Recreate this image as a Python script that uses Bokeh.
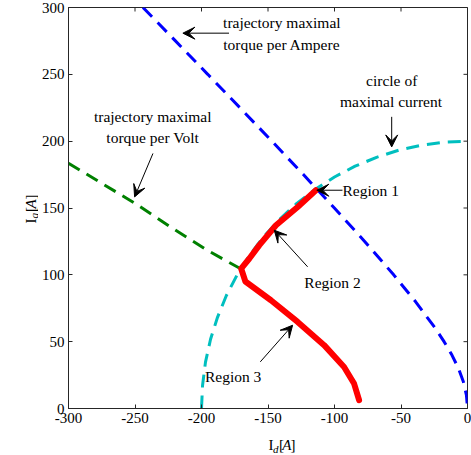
import math
from bokeh.plotting import figure
from bokeh.layouts import row, column
from bokeh.models import Range1d, FixedTicker, Label, Arrow, VeeHead
from bokeh.core.properties import value
from bokeh.embed import file_html
from bokeh.resources import INLINE

# ---------------- data ----------------
x_ticks = [-300, -250, -200, -150, -100, -50, 0]
x_tick_labels = ["-300", "-250", "-200", "-150", "-100", "-50", "0"]
y_ticks = [0, 50, 100, 150, 200, 250, 300]
y_tick_labels = ["0", "50", "100", "150", "200", "250", "300"]

# trajectory maximal torque per Ampere (blue dashed)
mtpa_id = [-244.0, -219.6, -195.3, -171.1, -147.1, -123.4, -100.1, -77.3, -55.5,
           -39.1, -24.2, -17.6, -11.7, -6.8, -3.1, -0.8, 0.0]
mtpa_iq = [300, 275, 250, 225, 200, 175, 150, 125, 100, 80, 60, 50, 40, 30, 20, 10, 0]

# circle of maximal current (cyan dashed)
imax_id = [-200.0, -199.2, -197.0, -193.2, -187.9, -181.3, -173.2, -163.8, -153.2, -141.4,
           -128.6, -114.7, -100.0, -84.5, -68.4, -51.8, -34.7, -17.4, 0.0]
imax_iq = [0.0, 17.4, 34.7, 51.8, 68.4, 84.5, 100.0, 114.7, 128.6, 141.4,
           153.2, 163.8, 173.2, 181.3, 187.9, 193.2, 197.0, 199.2, 200.0]

# trajectory maximal torque per Volt (green dashed)
mtpv_id = [-300, -250, -222, -195, -170.5]
mtpv_iq = [183.5, 153.5, 135.0, 118.0, 104.5]

# operating trajectory (red)
traj_id = [-114.0, -127.7, -144.0, -156.5, -164.0, -170.2, -167.0, -147.8, -127.7,
           -107.8, -92.8, -85.3, -81.5]
traj_iq = [163.3, 150.8, 137.1, 122.2, 112.2, 104.7, 95.0, 81.0, 64.8,
           47.4, 31.1, 18.7, 6.2]

FONT = "Liberation Serif"
AX = "#262626"

LW = 38  # width of the strip holding the y-axis label
p = figure(width=471 - LW, height=431, output_backend="svg", toolbar_location=None,
           x_range=Range1d(-300, 0), y_range=Range1d(0, 300),
           min_border_left=67 - LW, min_border_right=4, min_border_top=7, min_border_bottom=23)
p.grid.visible = False
p.outline_line_color = AX
p.outline_line_width = 1
p.background_fill_color = "white"
p.border_fill_color = "white"

for ax, ticks, labels in ((p.xaxis[0], x_ticks, x_tick_labels), (p.yaxis[0], y_ticks, y_tick_labels)):
    ax.ticker = FixedTicker(ticks=ticks)
    ax.major_label_overrides = {t: l for t, l in zip(ticks, labels)}
    ax.major_tick_in = 4
    ax.major_tick_out = 0
    ax.minor_tick_line_color = None
    ax.axis_line_color = AX
    ax.major_tick_line_color = AX
    ax.major_label_text_font = FONT
    ax.major_label_text_font_size = "15px"
    ax.major_label_text_color = "black"
    ax.major_label_standoff = 4

# mirrored inward ticks on the top and right edges (half of each dash is clipped by the frame)
p.scatter(x_ticks, [p.y_range.end] * len(x_ticks), marker="dash", angle=math.pi / 2,
          size=8, line_color=AX, line_width=1)
p.scatter([p.x_range.end] * len(y_ticks), y_ticks, marker="dash",
          size=8, line_color=AX, line_width=1)

# curves
p.line(imax_id, imax_iq, line_color="#00BFBF", line_width=3, line_dash="13 8")
p.line(mtpa_id, mtpa_iq, line_color="#0000FF", line_width=3, line_dash="13 8")
p.line(mtpv_id, mtpv_iq, line_color="#008000", line_width=3, line_dash="13 8")
p.line(traj_id, traj_iq, line_color="#FF0000", line_width=6, line_cap="round", line_join="round")

# annotations
def lab(x, y, t, align="center", size="15.5px"):
    p.add_layout(Label(x=x, y=y, text=t, text_font=FONT, text_font_size=size,
                       text_align=align, text_baseline="middle", text_color="black"))

def arr(x0, y0, x1, y1):
    p.add_layout(Arrow(end=VeeHead(size=12, fill_color="black", line_color="black", line_width=1),
                       x_start=x0, y_start=y0, x_end=x1, y_end=y1,
                       line_color="black", line_width=1))

lab(-139.6, 288.5, "trajectory maximal")
lab(-139.6, 272.3, "torque per Ampere")
arr(-179.3, 280.8, -214.0, 280.8)

lab(-57.0, 245.6, "circle of")
lab(-57.5, 229.4, "maximal current")
arr(-57.0, 218.2, -57.0, 195.7)

lab(-94.0, 163.3, "Region 1", align="left")
arr(-94.0, 163.3, -113.3, 163.3)

lab(-236.7, 218.6, "trajectory maximal")
lab(-236.7, 202.4, "torque per Volt")
arr(-236.5, 190.8, -250.3, 158.3)

lab(-101.5, 94.0, "Region 2")
arr(-120.2, 106.0, -145.3, 133.4)

lab(-176.2, 23.6, "Region 3")
arr(-155.8, 34.9, -131.5, 62.3)

# ---- axis-label strips (pixel ranges) ----
def strip(w, h):
    f = figure(width=w, height=h, output_backend="svg", toolbar_location=None,
               x_range=Range1d(0, w), y_range=Range1d(0, h),
               min_border=0, x_axis_location=None, y_axis_location=None)
    f.grid.visible = False
    f.outline_line_color = None
    f.background_fill_color = "white"
    f.border_fill_color = "white"
    return f

def piece(f, x, y, t, style="normal", size="15px", angle=0.0):
    f.text([x], [y], text=[t], text_font=value(FONT), text_font_size=size,
           text_font_style=style, text_align="left", text_baseline="alphabetic",
           text_color="black", angle=angle)

BH = 455 - 431
bx = strip(471 - LW, BH)
# I_d[A]
piece(bx, 255.0 - LW, 10.5, "I")
piece(bx, 260.0 - LW, 6.8, "d", style="italic", size="11px")
piece(bx, 266.5 - LW, 10.5, "[")
piece(bx, 270.0 - LW, 10.5, "A", style="italic")
piece(bx, 279.0 - LW, 10.5, "]")

ly = strip(LW, 455)
a = math.pi / 2
# I_q[A] (rotated)
piece(ly, 30.0, 232.0, "I", angle=a)
piece(ly, 33.0, 237.0, "q", style="italic", size="11px", angle=a)
piece(ly, 30.0, 243.5, "[", angle=a)
piece(ly, 30.0, 247.0, "A", style="italic", angle=a)
piece(ly, 30.0, 256.0, "]", angle=a)

layout = row(ly, column(p, bx, spacing=0), spacing=0)
open("out.html", "w").write(file_html(layout, INLINE))
